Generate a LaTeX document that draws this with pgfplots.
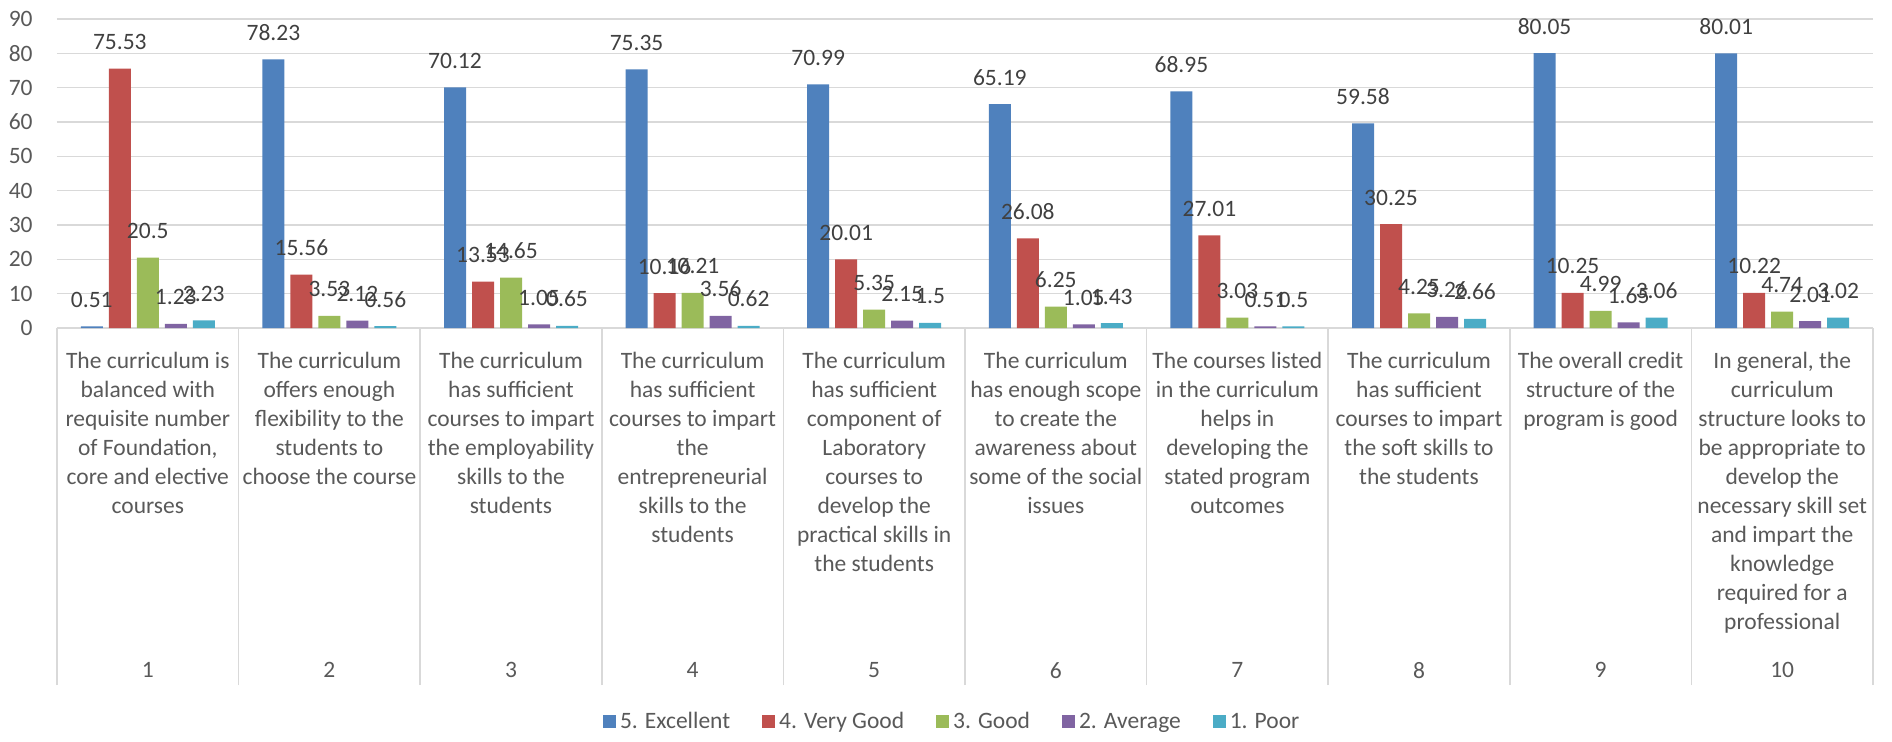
\documentclass[border=0pt]{standalone}
\usepackage{pgfplots}
\pgfplotsset{compat=1.18}
\usepackage{fontspec}
\setmainfont{Carlito}
\definecolor{c1}{HTML}{4F81BD}
\definecolor{c2}{HTML}{C0504D}
\definecolor{c3}{HTML}{9BBB59}
\definecolor{c4}{HTML}{8064A2}
\definecolor{c5}{HTML}{4BACC6}
\definecolor{gridc}{HTML}{D9D9D9}
\definecolor{txt}{HTML}{595959}
\definecolor{vtxt}{HTML}{404040}
\newcommand\cf{\fontsize{11.75}{14.5}\selectfont}
\begin{document}
\begin{tikzpicture}
\begin{axis}[
  name=ax,
  width=908pt, height=154.5pt, scale only axis,
  xmin=0.5, xmax=10.5, ymin=0, ymax=90,
  ytick={0,10,...,90},
  xtick={1,...,10},
  minor xtick={0.5,1.5,...,10.5},
  xticklabels={
    {The curriculum is\\balanced with\\requisite number\\of Foundation,\\core and elective\\courses},
    {The curriculum\\offers enough\\flexibility to the\\students to\\choose the course},
    {The curriculum\\has sufficient\\courses to impart\\the employability\\skills to the\\students},
    {The curriculum\\has sufficient\\courses to impart\\the\\entrepreneurial\\skills to the\\students},
    {The curriculum\\has sufficient\\component of\\Laboratory\\courses to\\develop the\\practical skills in\\the students},
    {The curriculum\\has enough scope\\to create the\\awareness about\\some of the social\\issues},
    {The courses listed\\in the curriculum\\helps in\\developing the\\stated program\\outcomes},
    {The curriculum\\has sufficient\\courses to impart\\the soft skills to\\the students},
    {The overall credit\\structure of the\\program is good},
    {In general, the\\curriculum\\structure looks to\\be appropriate to\\develop the\\necessary skill set\\and impart the\\knowledge\\required for a\\professional}},
  extra x ticks={1,...,10},
  extra x tick labels={1,2,3,4,5,6,7,8,9,10},
  extra x tick style={xticklabel style={yshift=-155pt}},
  ybar=3pt, bar width=11pt,
  ymajorgrids, grid style={gridc, line width=0.75pt},
  major tick length=0pt, minor tick length=178.5pt, tick align=outside,
  minor tick style={gridc, line width=0.75pt},
  axis lines*=left,
  y axis line style={draw=none},
  x axis line style={-, draw=gridc, line width=0.75pt},
  tick label style={font=\cf, text=txt},
  /pgf/number format/assume math mode=true,
  xticklabel style={anchor=north, align=center, inner sep=0pt, yshift=-12pt},
  yticklabel style={inner sep=0pt, xshift=-12pt},
  nodes near coords,
  every node near coord/.append style={font=\cf, text=vtxt, anchor=south, inner sep=0pt, yshift=9.25pt},
  legend style={at={(0.4935,-1.275)}, anchor=center, draw=none, font=\cf, text=txt,
    legend columns=5, /tikz/every even column/.append style={column sep=14pt}},
  legend image code/.code={\fill[#1] (0pt,-3.25pt) rectangle (6.5pt,3.25pt);},
]
\addplot[fill=c1, draw=none] coordinates {(1,0.51)(2,78.23)(3,70.12)(4,75.35)(5,70.99)(6,65.19)(7,68.95)(8,59.58)(9,80.05)(10,80.01)};
\addplot[fill=c2, draw=none] coordinates {(1,75.53)(2,15.56)(3,13.53)(4,10.16)(5,20.01)(6,26.08)(7,27.01)(8,30.25)(9,10.25)(10,10.22)};
\addplot[fill=c3, draw=none] coordinates {(1,20.5)(2,3.53)(3,14.65)(4,10.21)(5,5.35)(6,6.25)(7,3.03)(8,4.25)(9,4.99)(10,4.74)};
\addplot[fill=c4, draw=none] coordinates {(1,1.23)(2,2.12)(3,1.05)(4,3.56)(5,2.15)(6,1.05)(7,0.51)(8,3.26)(9,1.65)(10,2.01)};
\addplot[fill=c5, draw=none] coordinates {(1,2.23)(2,0.56)(3,0.65)(4,0.62)(5,1.5)(6,1.43)(7,0.5)(8,2.66)(9,3.06)(10,3.02)};
\legend{5. Excellent, 4. Very Good, 3. Good, 2. Average, 1. Poor}
\end{axis}
\path (ax.south west) ++(-28.5pt,-206.5pt) rectangle ++(946pt,370.5pt);
\end{tikzpicture}
\end{document}
